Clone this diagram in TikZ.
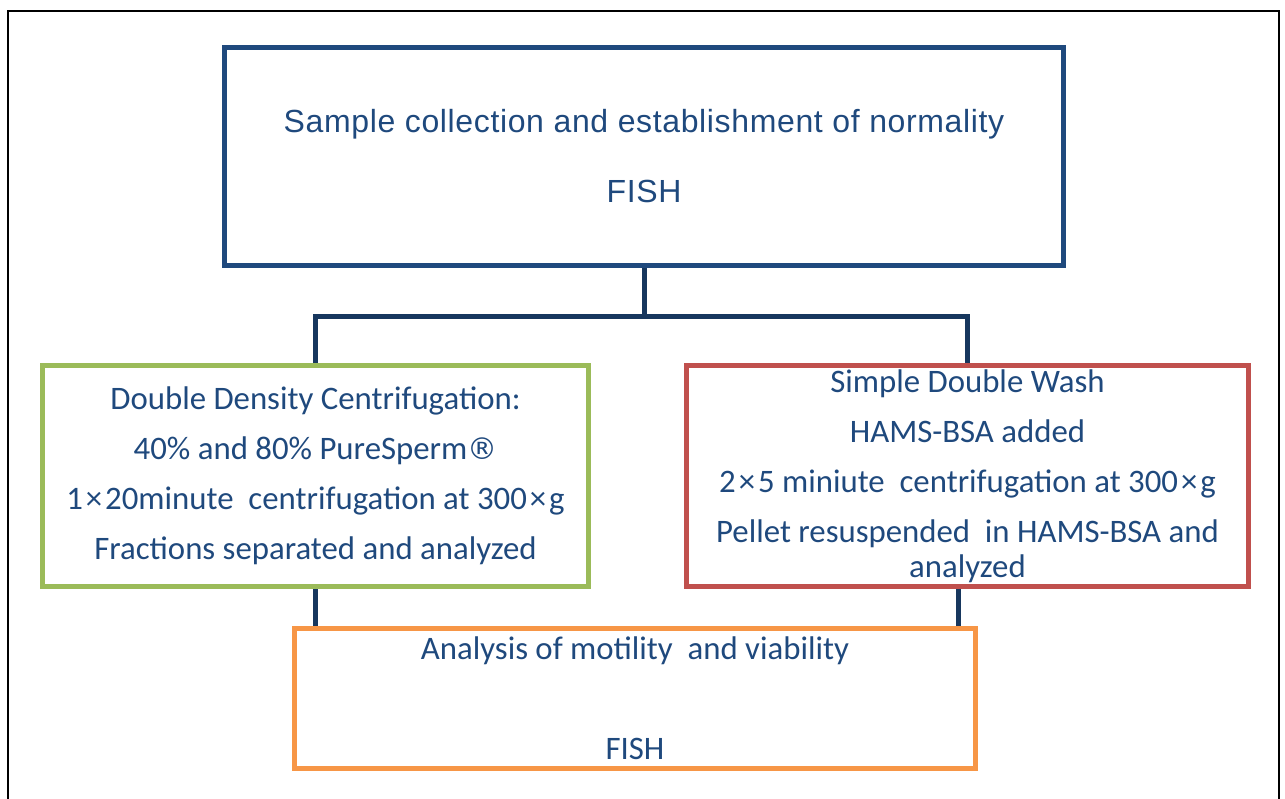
\documentclass[tikz,border=0pt]{standalone}
\usepackage{fontspec}
\setmainfont{Carlito}
\newfontfamily\arialfont{Liberation Sans}
\newfontfamily\symbfont{DejaVu Sans}
\usepackage{tikz}
\usetikzlibrary{positioning, calc}
\definecolor{txtblue}{RGB}{31,73,125}
\definecolor{navyline}{RGB}{23,55,94}
\definecolor{offgreen}{RGB}{155,187,89}
\definecolor{offred}{RGB}{192,80,77}
\definecolor{offorange}{RGB}{247,150,70}
\newcommand{\mulsign}{\kern1.5pt×\kern1.5pt}
\newcommand{\regsign}{{\symbfont\fontsize{15}{25}\selectfont ®}}
\tikzset{
  stepbox/.style={rectangle, line width=2.5pt, inner sep=0pt, align=center,
    text=txtblue, font=\fontsize{16.4}{25}\selectfont},
  link/.style={line width=2.5pt, color=navyline}
}

\begin{document}
\begin{tikzpicture}[x=0.5pt, y=-0.5pt]
  \useasboundingbox (0,0) rectangle (1285,798);
  % outer frame (open at the bottom)
  \draw[line width=1pt, black] (8,820) -- (8,11) -- (1279,11) -- (1279,820);

  % top box
  \node[stepbox, draw=txtblue, minimum width=419.5pt, minimum height=109pt,
    font=\arialfont\addfontfeatures{LetterSpace=2}\fontsize{16}{35}\selectfont] (sample) at (644,156.5)
    {Sample collection and establishment of normality\\FISH};

  % the two preparation methods
  \node[stepbox, draw=offgreen, minimum width=273pt, minimum height=110.5pt] (ddc) at (315.5,476)
    {Double Density Centrifugation:\\40\% and 80\% PureSperm\regsign\\1\mulsign20minute\ \ centrifugation at 300\mulsign g\\Fractions separated and analyzed};
  \node[stepbox, draw=offred, minimum width=281pt, minimum height=110.5pt] (sdw) at (967.5,476)
    {Simple Double Wash\\HAMS-BSA added\\2\mulsign5 miniute\ \ centrifugation at 300\mulsign g\\Pellet resuspended\ \ in HAMS-BSA and\\[-7.5pt]analyzed};

  % final analysis
  \node[stepbox, draw=offorange, minimum width=340.5pt, minimum height=70pt,
    font=\fontsize{16.4}{50}\selectfont] (analysis) at (635,698.5)
    {Analysis of motility\ \ and viability\\FISH};

  % connectors
  \draw[link] (sample.south) -- ++(0,48) coordinate (fork);
  \draw[link] (ddc.north) |- (fork) -| (sdw.north);
  \draw[link] (ddc.south) -- (ddc.south |- analysis.north);
  \draw[link] ([xshift=-4.5pt]sdw.south) -- ([xshift=-4.5pt]sdw.south |- analysis.north);
\end{tikzpicture}
\end{document}
